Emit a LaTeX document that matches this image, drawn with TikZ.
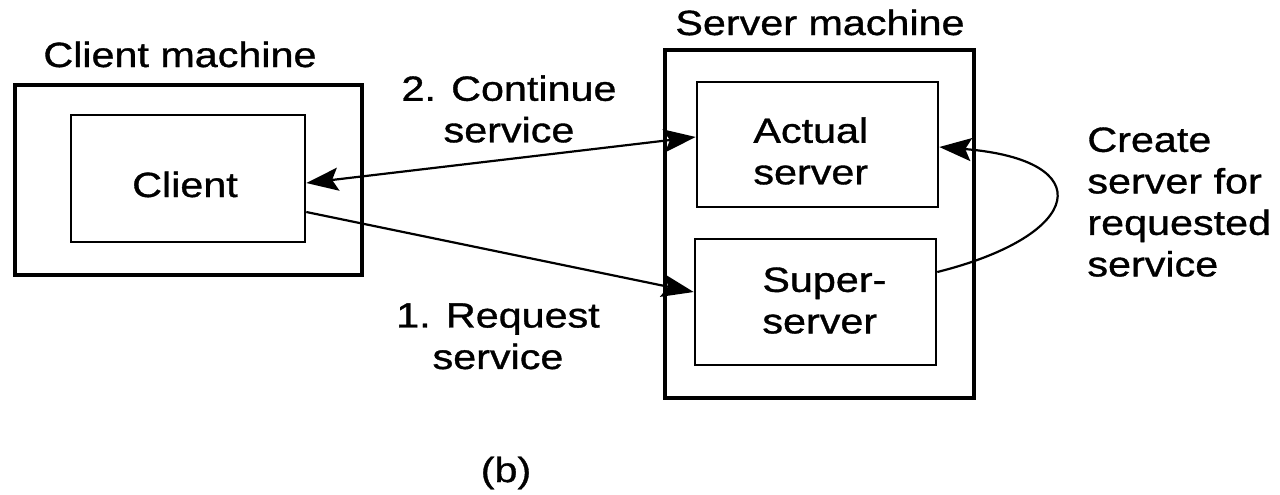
\documentclass[tikz,border=0pt]{standalone}
\usepackage{fontspec}
\setmainfont{Liberation Sans}[FakeStretch=1.18, FakeBold=1]
\usetikzlibrary{arrows.meta,calc}

\tikzset{
  machine/.style={draw, line width=2.3pt, inner sep=0pt},
  process/.style={draw, line width=1.3pt, inner sep=0pt},
  txt/.style={inner sep=0pt, font=\fontsize{17.5}{20.75}\selectfont},
  tip/.tip={Stealth[length=16pt,width=11.5pt,inset=3pt]},
  link/.style={line width=1.1pt, -tip},
  biglink/.style={line width=1.1pt, tip-tip}
}

\begin{document}
\begin{tikzpicture}[x=0.5pt, y=-0.5pt]
  \useasboundingbox (0,0) rectangle (1280,494);

  % machines
  \node[machine, minimum width=173.5pt, minimum height=95pt] (cm) at (188.5,180) {};
  \node[machine, minimum width=154.5pt, minimum height=174pt] (sm) at (819.5,224) {};

  % processes
  \node[process, minimum width=117pt, minimum height=63.5pt] (client) at (188,178.5) {};
  \node[process, minimum width=120.5pt, minimum height=62.5pt] (actual) at (817.5,144.5) {};
  \node[process, minimum width=120.5pt, minimum height=63pt] (super) at (815.5,302) {};

  % texts
  \node[txt, anchor=base] (cmlabel) at (180,67) {Client machine};
  \node[txt, anchor=base] (smlabel) at (820,35) {Server machine};
  \node[txt, anchor=base] (clientlabel) at (185,197) {Client};
  \node[txt, anchor=north west, align=left] (actuallabel) at (753,117) {Actual\\server};
  \node[txt, anchor=north west, align=left] (superlabel) at (762,267) {Super-\\server};
  \node[txt, anchor=north, align=center] (contlabel) at (509,75) {2. Continue\\service};
  \node[txt, anchor=north, align=center] (reqlabel) at (498,303) {1. Request\\service};
  \node[txt, anchor=north west, align=left] (createlabel) at (1087,127) {Create\\server for\\requested\\service};
  \node[txt, anchor=center] (caption) at (506,473) {(b)};

  % connectors
  \draw[biglink] ([yshift=-2.25pt]client.east) -- ([yshift=3.75pt]actual.west);
  \draw[link] ([yshift=-16.75pt]client.east) -- ([yshift=5pt]super.west);
  \draw[link] ([yshift=15pt]super.east) .. controls (1085,235) and (1100,160) .. ([yshift=-1.25pt]actual.east);
\end{tikzpicture}
\end{document}
